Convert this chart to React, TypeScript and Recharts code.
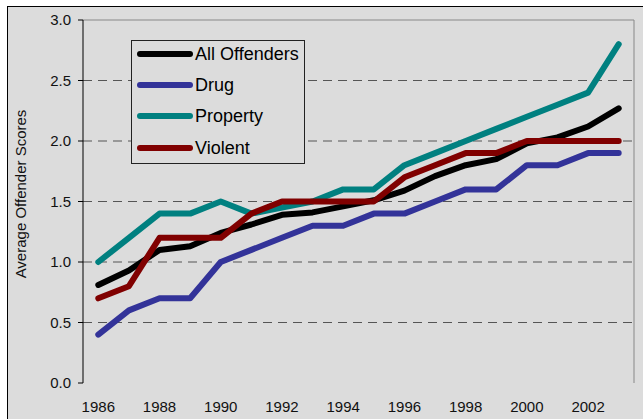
import { LineChart, Line, XAxis, YAxis, ReferenceLine, Legend } from 'recharts'

const years = [1986, 1987, 1988, 1989, 1990, 1991, 1992, 1993, 1994, 1995, 1996, 1997, 1998, 1999, 2000, 2001, 2002, 2003]
const allOffenders = [0.81, 0.93, 1.1, 1.13, 1.24, 1.31, 1.39, 1.41, 1.46, 1.51, 1.59, 1.71, 1.8, 1.85, 1.98, 2.03, 2.12, 2.27]
const drug = [0.4, 0.6, 0.7, 0.7, 1.0, 1.1, 1.2, 1.3, 1.3, 1.4, 1.4, 1.5, 1.6, 1.6, 1.8, 1.8, 1.9, 1.9]
const property = [1.0, 1.2, 1.4, 1.4, 1.5, 1.4, 1.45, 1.5, 1.6, 1.6, 1.8, 1.9, 2.0, 2.1, 2.2, 2.3, 2.4, 2.8]
const violent = [0.7, 0.8, 1.2, 1.2, 1.2, 1.4, 1.5, 1.5, 1.5, 1.5, 1.7, 1.8, 1.9, 1.9, 2.0, 2.0, 2.0, 2.0]

const xTickLabels = [1986, 1988, 1990, 1992, 1994, 1996, 1998, 2000, 2002]
const yTicks = [0, 0.5, 1.0, 1.5, 2.0, 2.5, 3.0]
const gridValues = [0.5, 1.0, 1.5, 2.0, 2.5]

const series = [
  { key: 'all', name: 'All Offenders', color: '#000000' },
  { key: 'drug', name: 'Drug', color: '#333399' },
  { key: 'property', name: 'Property', color: '#008080' },
  { key: 'violent', name: 'Violent', color: '#800000' },
]

const data = years.map((year, i) => ({
  year,
  all: allOffenders[i],
  drug: drug[i],
  property: property[i],
  violent: violent[i],
}))

// category boundaries, so tick marks sit between the years like in Excel
const boundaries = [...years.map((y) => y - 0.5), years[years.length - 1] + 0.5]
const domain: [number, number] = [boundaries[0], boundaries[boundaries.length - 1]]

const FONT = "'Liberation Sans', Arial, sans-serif"

function LegendBox() {
  return (
    <div
      style={{
        width: 174,
        height: 124,
        border: '1px solid #222',
        background: '#dcdcdc',
        fontFamily: FONT,
        fontSize: 18,
        color: '#000',
        boxSizing: 'border-box',
        position: 'relative',
      }}
    >
      {series.map((s, i) => (
        <div
          key={s.key}
          style={{ position: 'absolute', left: 4, top: 12.7 + i * 31.3 - 12, height: 24, display: 'flex', alignItems: 'center' }}
        >
          <svg width={58} height={10} style={{ display: 'block' }}>
            <line x1={4} y1={5} x2={54} y2={5} stroke={s.color} strokeWidth={6} strokeLinecap="round" />
          </svg>
          <span style={{ marginLeft: 1, lineHeight: '24px' }}>{s.name}</span>
        </div>
      ))}
    </div>
  )
}

export default function App() {
  return (
    <div style={{ position: 'fixed', inset: 0, overflow: 'hidden', background: '#fff' }}>
      <div
        style={{
          position: 'absolute',
          left: 7,
          top: 6,
          width: 700,
          height: 500,
          borderLeft: '1px solid #000',
          borderTop: '1px solid #000',
          background: '#dcdcdc',
        }}
      />
      <div style={{ position: 'absolute', left: 0, top: 0 }}>
        <LineChart width={643} height={419} data={data} margin={{ top: 20, right: 9, bottom: 0, left: 0 }}>
          <XAxis
            xAxisId="grid"
            dataKey="year"
            type="number"
            domain={domain}
            ticks={boundaries}
            interval={0}
            tickFormatter={() => ''}
            tickSize={5}
            height={0}
            axisLine={{ stroke: '#000' }}
            tickLine={{ stroke: '#000' }}
            allowDataOverflow
          />
          <XAxis
            xAxisId="labels"
            dataKey="year"
            type="number"
            domain={domain}
            ticks={xTickLabels}
            interval={0}
            axisLine={false}
            tickLine={false}
            tickSize={0}
            tickMargin={18}
            height={36}
            tick={{ fill: '#111', fontSize: 15, fontFamily: FONT }}
            allowDataOverflow
          />
          <YAxis
            type="number"
            domain={[0, 3]}
            ticks={yTicks}
            interval={0}
            width={83}
            tickSize={5}
            tickMargin={7}
            tickFormatter={(v: number) => v.toFixed(1)}
            axisLine={{ stroke: '#000' }}
            tickLine={{ stroke: '#000' }}
            tick={{ fill: '#111', fontSize: 15, fontFamily: FONT }}
            label={{
              content: () => (
                <text
                  x={20}
                  y={194}
                  transform="rotate(-90 20 194)"
                  textAnchor="middle"
                  dominantBaseline="central"
                  fontSize={15}
                  fontFamily={FONT}
                  fill="#111"
                >
                  Average Offender Scores
                </text>
              ),
            }}
          />
          {gridValues.map((v) => (
            <ReferenceLine key={v} xAxisId="grid" y={v} stroke="#555" strokeDasharray="9 6" />
          ))}
          <ReferenceLine xAxisId="grid" y={3} stroke="#888" />
          <ReferenceLine xAxisId="grid" x={domain[1]} stroke="#888" />
          {series.map((s) => (
            <Line
              key={s.key}
              xAxisId="grid"
              type="linear"
              dataKey={s.key}
              name={s.name}
              stroke={s.color}
              strokeWidth={6}
              strokeLinecap="round"
              strokeLinejoin="round"
              dot={false}
              activeDot={false}
              isAnimationActive={false}
            />
          ))}
          <Legend
            layout="vertical"
            align="center"
            verticalAlign="middle"
            wrapperStyle={{ left: 131, top: 40, width: 176, height: 126 }}
            content={() => <LegendBox />}
          />
        </LineChart>
      </div>
    </div>
  )
}
